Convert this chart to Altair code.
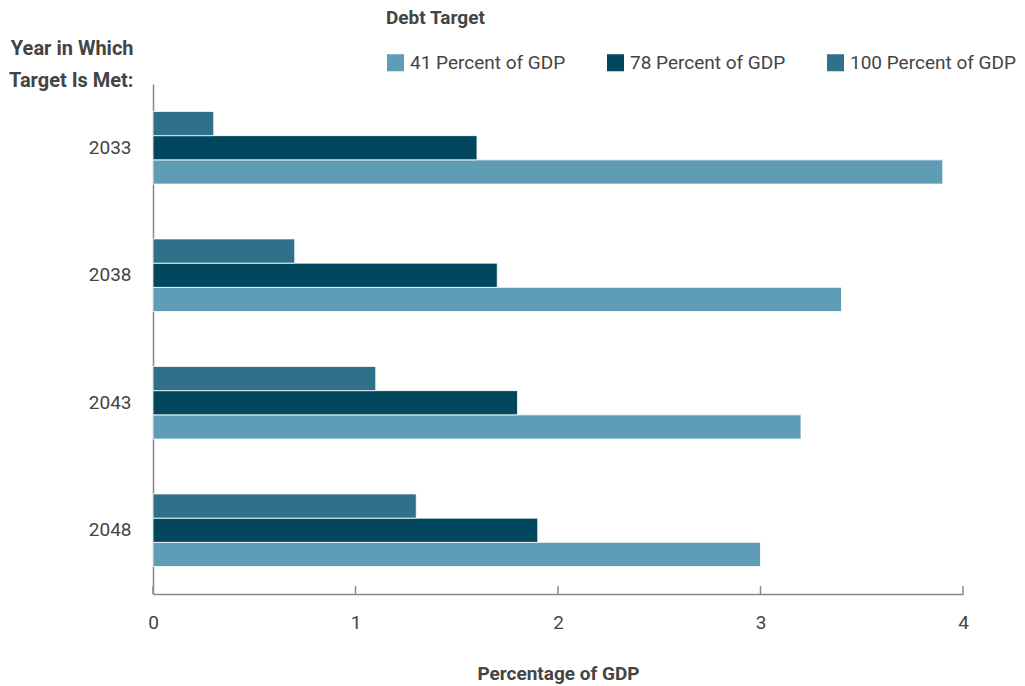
import altair as alt
import pandas as pd

years = ["2033", "2038", "2043", "2048"]
targets = ["41 Percent of GDP", "78 Percent of GDP", "100 Percent of GDP"]
v41 = [3.9, 3.4, 3.2, 3.0]
v78 = [1.6, 1.7, 1.8, 1.9]
v100 = [0.3, 0.7, 1.1, 1.3]
colors = ["#5f9db6", "#02475d", "#30718a"]
x_ticks = [0, 1, 2, 3, 4]

rows = []
for i, y in enumerate(years):
    for t, vals in zip(targets, [v41, v78, v100]):
        rows.append({"year": y, "target": t, "value": vals[i]})
df = pd.DataFrame(rows)
ticks_df = pd.DataFrame({"t": x_ticks})

FONT = "Roboto"
W, H = 810, 510

xscale = alt.Scale(domain=[0, 4], nice=False)

bars = alt.Chart(df).mark_bar(stroke="white", strokeWidth=0.8).encode(
    x=alt.X("value:Q", scale=xscale,
            axis=alt.Axis(values=x_ticks, format="d", ticks=False, labelFlush=False,
                          domainColor="#888888", domainWidth=1.5,
                          labelFontSize=19, labelColor="#444444",
                          labelPadding=19, title="Percentage of GDP",
                          titleFontSize=19, titleFontWeight="bold",
                          titleColor="#444444", titlePadding=32, grid=False)),
    y=alt.Y("year:N", sort=years,
            scale=alt.Scale(paddingInner=0.43, paddingOuter=0.215),
            axis=alt.Axis(ticks=False, domainColor="#888888", domainWidth=1.5,
                          labelFontSize=19, labelColor="#444444", labelPadding=22,
                          title=["Year in Which", "Target Is Met:"],
                          titleAngle=0, titleAlign="right", titleBaseline="top",
                          titleX=-20, titleY=-46, titleLineHeight=32,
                          titleFontSize=20, titleFontWeight="bold",
                          titleColor="#444444")),
    yOffset=alt.YOffset("target:N", sort=list(reversed(targets))),
    color=alt.Color("target:N", sort=targets,
                    scale=alt.Scale(domain=targets, range=colors),
                    legend=alt.Legend(title="Debt Target", orient="none",
                                      direction="horizontal", columns=3,
                                      legendX=233, legendY=-75,
                                      titleFontSize=19, titleFontWeight="bold",
                                      titleColor="#444444", titlePadding=25,
                                      labelFontSize=19, labelColor="#444444",
                                      labelLimit=400,
                                      symbolType="square", symbolSize=290,
                                      symbolStrokeWidth=0, labelOffset=5,
                                      columnPadding=40)),
)

tick_marks = alt.Chart(ticks_df).mark_rule(color="#888888", strokeWidth=1.5).encode(
    x=alt.X("t:Q", scale=xscale),
    y=alt.value(H - 8),
    y2=alt.value(H),
)

chart = alt.layer(bars, tick_marks).properties(
    width=W, height=H,
    autosize=alt.AutoSizeParams(type="none"),
    padding={"left": 153, "top": 84, "right": 62, "bottom": 92},
).configure(font=FONT).configure_view(stroke=None)

chart.save("out.html", embed_options={"renderer": "svg", "actions": False})
